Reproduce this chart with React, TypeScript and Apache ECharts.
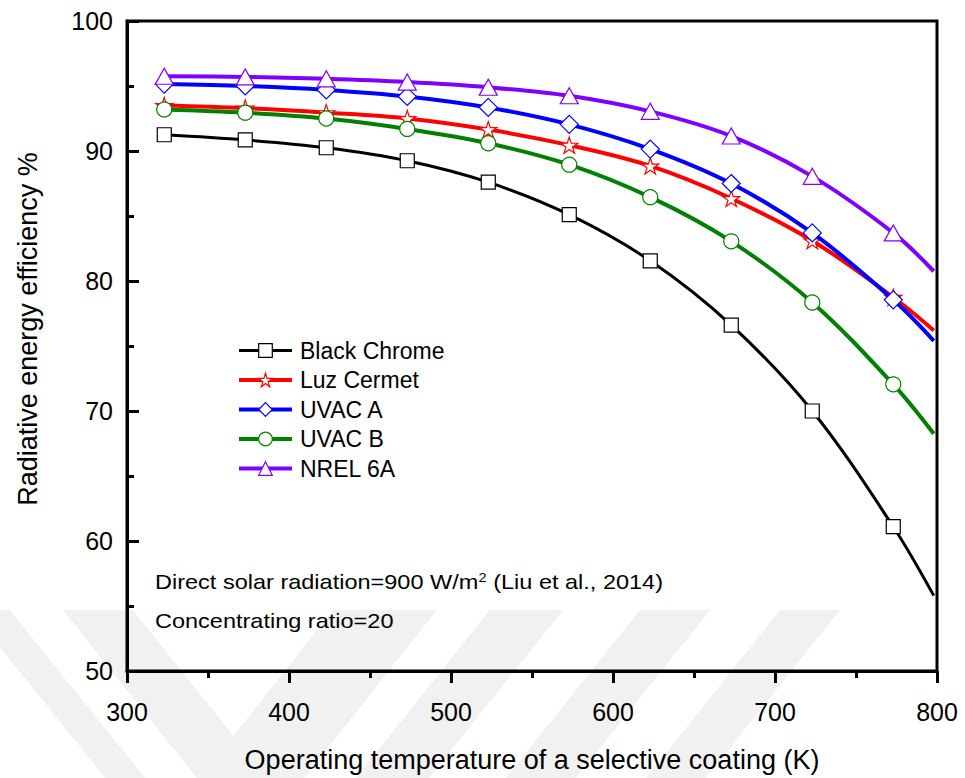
import React, { useEffect, useRef } from 'react';
import * as echarts from 'echarts';

// Operating temperatures (K); the last point is the curve end (no marker)
const temperatures = [323, 373, 423, 473, 523, 573, 623, 673, 723, 773, 798];
const markerCount = 10;

const seriesNames = ['Black Chrome', 'Luz Cermet', 'UVAC A', 'UVAC B', 'NREL 6A'];
const blackChrome = [91.25, 90.85, 90.25, 89.25, 87.6, 85.1, 81.55, 76.6, 70.0, 61.1, 55.8];
const luzCermet = [93.5, 93.3, 92.95, 92.5, 91.65, 90.45, 88.85, 86.35, 83.1, 78.75, 76.2];
const uvacA = [95.15, 95.0, 94.7, 94.2, 93.35, 92.05, 90.15, 87.5, 83.7, 78.55, 75.4];
const uvacB = [93.2, 92.95, 92.5, 91.7, 90.6, 88.95, 86.45, 83.05, 78.35, 72.05, 68.25];
const nrel6A = [95.75, 95.7, 95.55, 95.3, 94.9, 94.25, 93.05, 91.15, 88.05, 83.7, 80.75];

const xTitle = 'Operating temperature of a selective coating (K)';
const yTitle = 'Radiative energy efficiency %';
const note1 = 'Direct solar radiation=900 W/m{sup|2} (Liu et al., 2014)';
const note2 = 'Concentrating ratio=20';

const FONT = '"Liberation Sans", Arial, Helvetica, sans-serif';
const STAR =
  'path://M50 0 L61.23 34.55 L97.55 34.55 L68.16 55.9 L79.39 90.45 L50 69.1 L20.61 90.45 L31.84 55.9 L2.45 34.55 L38.77 34.55 Z';

function toData(values: number[]) {
  return values.map((v, i) =>
    i < markerCount ? [temperatures[i], v] : { value: [temperatures[i], v], symbol: 'none' }
  );
}

const styles = [
  { values: blackChrome, color: '#000000', width: 3, symbol: 'rect', size: 14 },
  { values: luzCermet, color: '#ff0000', width: 4, symbol: STAR, size: 17 },
  { values: uvacA, color: '#0000ff', width: 4, symbol: 'diamond', size: 18 },
  { values: uvacB, color: '#008000', width: 4, symbol: 'circle', size: 15 },
  { values: nrel6A, color: '#8000ff', width: 4, symbol: 'triangle', size: [18, 16] },
];

const WM = '#f1f1f1';
const watermark = [
  [[-30, 610], [10, 610], [145, 778], [105, 778]],
  [[63, 610], [133, 610], [267, 778], [197, 778]],
  [[333, 610], [437, 610], [304, 778], [200, 778]],
  [[490, 610], [563, 610], [429, 778], [356, 778]],
  [[640, 610], [710, 610], [576, 778], [506, 778]],
  [[780, 610], [840, 610], [706, 778], [646, 778]],
].map((pts) => ({
  type: 'polygon',
  z: -10,
  silent: true,
  shape: { points: pts },
  style: { fill: WM },
}));

export default function App() {
  const ref = useRef<HTMLDivElement>(null);
  useEffect(() => {
    if (!ref.current) return;
    const chart = echarts.init(ref.current, undefined, { renderer: 'svg' });
    chart.setOption({
      animation: false,
      backgroundColor: '#ffffff',
      grid: {
        left: 127,
        right: 28,
        top: 21,
        bottom: 98.5,
        show: true,
        borderColor: '#000',
        borderWidth: 3,
        backgroundColor: 'transparent',
      },
      legend: {
        orient: 'vertical',
        left: 232,
        top: 334,
        itemWidth: 53,
        itemHeight: 17,
        itemGap: 6.5,
        data: seriesNames,
        textStyle: { fontSize: 23, fontFamily: FONT, color: '#000', padding: [0, 0, 0, 3] },
        lineStyle: { width: 'inherit' },
        itemStyle: { borderWidth: 1.2 },
      },
      xAxis: {
        type: 'value',
        min: 300,
        max: 800,
        interval: 100,
        name: xTitle,
        nameLocation: 'middle',
        nameGap: 75,
        nameTextStyle: { fontSize: 27, fontFamily: FONT, color: '#000' },
        axisLine: { show: true, lineStyle: { color: '#000', width: 3 } },
        axisTick: { show: true, inside: false, length: 12, lineStyle: { color: '#000', width: 3 } },
        minorTick: { show: true, splitNumber: 2, length: 7, lineStyle: { color: '#000', width: 3 } },
        splitLine: { show: false },
        axisLabel: { fontSize: 25, fontFamily: FONT, color: '#000', margin: 28 },
      },
      yAxis: {
        type: 'value',
        min: 50,
        max: 100,
        interval: 10,
        name: yTitle,
        nameLocation: 'middle',
        nameGap: 86,
        nameTextStyle: { fontSize: 27, fontFamily: FONT, color: '#000', padding: [0, 0, 0, 34] },
        axisLine: { show: true, lineStyle: { color: '#000', width: 3 } },
        axisTick: { show: true, inside: true, length: 12, lineStyle: { color: '#000', width: 3 } },
        minorTick: { show: true, splitNumber: 2, length: 7, lineStyle: { color: '#000', width: 3 } },
        splitLine: { show: false },
        axisLabel: { fontSize: 25, fontFamily: FONT, color: '#000', margin: 14 },
      },
      graphic: [
        ...watermark,
        {
          type: 'text',
          x: 155,
          y: 582,
          scaleX: 1.12,
          z: 10,
          style: {
            text: note1,
            fontSize: 21,
            fontFamily: FONT,
            fill: '#000',
            textVerticalAlign: 'middle',
            rich: {
              sup: { fontSize: 13, fontFamily: FONT, fill: '#000', verticalAlign: 'top' },
            },
          },
        },
        {
          type: 'text',
          x: 155,
          y: 621,
          scaleX: 1.12,
          z: 10,
          style: {
            text: note2,
            fontSize: 21,
            fontFamily: FONT,
            fill: '#000',
            textVerticalAlign: 'middle',
          },
        },
      ],
      series: styles.map((s, i) => ({
        name: seriesNames[i],
        type: 'line',
        data: toData(s.values),
        smooth: 0.35,
        showAllSymbol: true,
        symbol: s.symbol,
        symbolSize: s.size,
        symbolKeepAspect: true,
        lineStyle: { color: s.color, width: s.width },
        itemStyle: { color: '#ffffff', borderColor: s.color, borderWidth: 1.2 },
        z: 2 + i,
      })),
    });
    return () => chart.dispose();
  }, []);
  return (
    <div
      ref={ref}
      style={{ position: 'fixed', left: 0, top: 0, width: 965, height: 778, background: '#fff' }}
    />
  );
}
